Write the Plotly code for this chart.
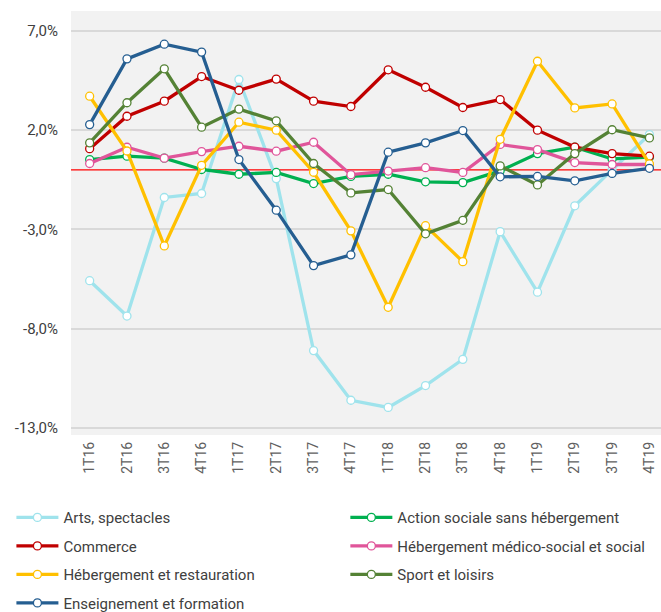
import plotly.graph_objects as go

quarters = ["1T16", "2T16", "3T16", "4T16", "1T17", "2T17", "3T17", "4T17",
            "1T18", "2T18", "3T18", "4T18", "1T19", "2T19", "3T19", "4T19"]

arts = [-5.58, -7.36, -1.39, -1.19, 4.55, -0.44, -9.10, -11.60,
        -11.96, -10.86, -9.54, -3.11, -6.16, -1.81, 0.0, 1.78]
action_sociale = [0.52, 0.69, 0.59, 0.02, -0.22, -0.13, -0.69, -0.33,
                  -0.22, -0.60, -0.64, -0.05, 0.82, 1.14, 0.55, 0.64]
commerce = [1.07, 2.70, 3.46, 4.70, 4.01, 4.57, 3.46, 3.19,
            5.04, 4.16, 3.14, 3.54, 2.00, 1.15, 0.82, 0.69]
medico_social = [0.32, 1.14, 0.59, 0.92, 1.19, 0.94, 1.39, -0.24,
                 -0.06, 0.11, -0.13, 1.28, 1.02, 0.37, 0.27, 0.27]
restauration = [3.71, 0.95, -3.83, 0.23, 2.40, 2.00, -0.12, -3.07,
                -6.92, -2.81, -4.62, 1.54, 5.47, 3.12, 3.32, 0.30]
sport = [1.36, 3.38, 5.09, 2.15, 3.06, 2.47, 0.32, -1.16,
         -0.99, -3.22, -2.54, 0.20, -0.76, 0.82, 2.02, 1.61]
enseignement = [2.28, 5.59, 6.33, 5.93, 0.52, -2.03, -4.82, -4.28,
                0.89, 1.36, 1.98, -0.35, -0.33, -0.55, -0.18, 0.08]

y_tickvals = [-13, -8, -3, 2, 7]
y_ticktext = ["-13,0%", "-8,0%", "-3,0%", "2,0%", "7,0%"]

# (name, values, colour, legend column)
series = [
    ("Arts, spectacles", arts, "#9FE3EC", "legend"),
    ("Action sociale sans hébergement", action_sociale, "#00B050", "legend2"),
    ("Commerce", commerce, "#C00000", "legend"),
    ("Hébergement médico-social et social", medico_social, "#E0559A", "legend2"),
    ("Hébergement et restauration", restauration, "#FFC000", "legend"),
    ("Sport et loisirs", sport, "#548235", "legend2"),
    ("Enseignement et formation", enseignement, "#255E91", "legend"),
]

fig = go.Figure()
# zero reference line (under the data)
fig.add_shape(type="line", xref="paper", x0=0, x1=1, yref="y", y0=0, y1=0,
              line=dict(color="#FF0000", width=1.2), layer="below")

for name, vals, col, leg in series:
    fig.add_trace(go.Scatter(
        x=quarters, y=vals, name=name, mode="lines+markers",
        legend=leg, legendgroup=name,
        line=dict(color=col, width=3.3),
        marker=dict(size=8, color="white", line=dict(color=col, width=1.3)),
    ))

legend_common = dict(
    orientation="v", yanchor="top", xanchor="left",
    font=dict(size=15, color="#404040"),
    tracegroupgap=6, traceorder="grouped", itemwidth=42,
    bgcolor="rgba(0,0,0,0)",
)

fig.update_layout(
    width=661, height=612,
    margin=dict(l=71, r=0, t=11, b=177, autoexpand=False),
    paper_bgcolor="white",
    plot_bgcolor="#F2F2F2",
    font=dict(family="Roboto, Liberation Sans, sans-serif", color="#404040"),
    showlegend=True,
    legend=dict(x=-0.101, y=-0.156, **legend_common),
    legend2=dict(x=0.465, y=-0.156, **legend_common),
)
fig.update_xaxes(
    type="category", range=[-0.5, 15.31], automargin=False,
    showgrid=False, zeroline=False, showline=False,
    tickangle=-90, ticks="", ticklabelstandoff=3,
    tickfont=dict(family="Liberation Sans Narrow, Roboto", size=14, color="#606060"),
)
fig.update_yaxes(
    range=[-13.35, 8], tickvals=y_tickvals, ticktext=y_ticktext, automargin=False,
    showgrid=True, gridcolor="#D9D9D9", gridwidth=1.5,
    zeroline=False,
    showline=False, ticks="", ticklabelstandoff=12,
    tickfont=dict(size=15, color="#404040"),
)

fig.write_html("out.html", config={"displayModeBar": False},
               post_script="document.body.style.margin='0';")
